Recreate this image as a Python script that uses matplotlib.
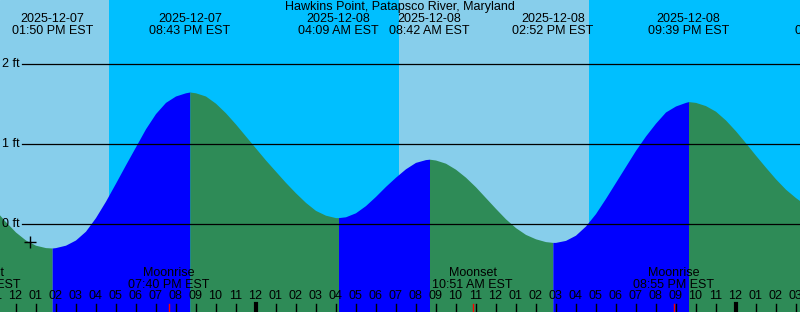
import matplotlib
matplotlib.use("Agg")
import matplotlib.pyplot as plt
import matplotlib.transforms as mtransforms
import numpy as np

plt.rcParams['font.family'] = ['Liberation Sans', 'DejaVu Sans']

title = "Hawkins Point, Patapsco River, Maryland"

# hours since 2025-12-07 00:00 EST, heights in ft
tide_hours = [11.0, 11.5, 12.0, 12.5, 13.0, 13.5, 13.833, 14.0, 14.5, 15.0, 15.5,
              16.0, 16.5, 17.0, 17.5, 18.0, 18.5, 19.0, 19.5, 20.0, 20.5, 20.717,
              21.0, 21.5, 22.0, 22.5, 23.0, 23.5, 24.0, 24.5, 25.0, 25.5, 26.0,
              26.5, 27.0, 27.5, 28.0, 28.15, 28.5, 29.0, 29.5, 30.0, 30.5, 31.0,
              31.5, 32.0, 32.5, 32.7, 33.0, 33.5, 34.0, 34.5, 35.0, 35.5, 36.0,
              36.5, 37.0, 37.5, 38.0, 38.5, 38.867, 39.0, 39.5, 40.0, 40.5, 41.0,
              41.5, 42.0, 42.5, 43.0, 43.5, 44.0, 44.5, 45.0, 45.5, 45.65, 46.0,
              46.5, 47.0, 47.5, 48.0, 48.5, 49.0, 49.5, 50.0, 50.5, 51.0, 51.5]
tide_ft = [0.17, 0.03, -0.10, -0.20, -0.265, -0.295, -0.30, -0.295, -0.265, -0.20, -0.09,
           0.08, 0.285, 0.51, 0.74, 0.965, 1.19, 1.38, 1.52, 1.60, 1.64, 1.65,
           1.64, 1.60, 1.51, 1.39, 1.25, 1.10, 0.95, 0.80, 0.66, 0.52, 0.39,
           0.27, 0.17, 0.11, 0.08, 0.08, 0.09, 0.14, 0.23, 0.345, 0.47, 0.585,
           0.69, 0.77, 0.805, 0.81, 0.80, 0.76, 0.685, 0.585, 0.465, 0.33, 0.195,
           0.065, -0.045, -0.13, -0.185, -0.22, -0.23, -0.23, -0.205, -0.14, -0.025, 0.13,
           0.32, 0.52, 0.72, 0.92, 1.10, 1.26, 1.40, 1.475, 1.52, 1.53, 1.52,
           1.48, 1.41, 1.30, 1.165, 1.015, 0.86, 0.71, 0.565, 0.435, 0.33, 0.24]

# high / low tide events
event_hours = [8.0, 13.833, 20.717, 28.15, 32.7, 38.867, 45.65, 52.967]
event_kind = ["high", "low", "high", "low", "high", "low", "high", "low"]
event_dates = ["2025-12-07", "2025-12-07", "2025-12-07", "2025-12-08",
               "2025-12-08", "2025-12-08", "2025-12-08", "2025-12-09"]
event_times = ["08:00 AM EST", "01:50 PM EST", "08:43 PM EST", "04:09 AM EST",
               "08:42 AM EST", "02:52 PM EST", "09:39 PM EST", "04:58 AM EST"]

# night periods (sunset -> sunrise)
night_start = [16.675, 40.675]
night_end = [31.175, 55.2]

moon_hours = [10.217, 19.667, 34.85, 44.917]
moon_names = ["Moonset", "Moonrise", "Moonset", "Moonrise"]
moon_times = ["10:13 AM EST", "07:40 PM EST", "10:51 AM EST", "08:55 PM EST"]

now_hour = 12.725
now_ft = -0.225

x0, x1 = 11.225, 51.225
y0, y1 = -1.1, 2.8

fig = plt.figure(figsize=(8, 3.12), dpi=100)
ax = fig.add_axes([0, 0, 1, 1])
ax.set_xlim(x0, x1)
ax.set_ylim(y0, y1)
ax.axis('off')

ax.axvspan(x0, x1, color='#87CEEB', zorder=0)
for s, e in zip(night_start, night_end):
    ax.axvspan(s, e, color='#00BFFF', zorder=0.5, lw=0)

t = np.array(tide_hours)
h = np.array(tide_ft)
for i in range(len(event_hours) - 1):
    a, b = event_hours[i], event_hours[i + 1]
    m = (t >= a - 1e-6) & (t <= b + 1e-6)
    if m.sum() < 2:
        continue
    col = '#0000FF' if event_kind[i] == "low" else '#2E8B57'
    ax.fill_between(t[m], h[m], y0, color=col, lw=0, zorder=1)

for lev in [0, 1, 2]:
    ax.axhline(lev, xmin=22 / 800, xmax=1, color='black', lw=0.9, zorder=2)
    ax.text(x0 + 2 / 20, lev, "%d ft" % lev, fontsize=9, va='center', ha='left', zorder=3)

ax.plot([now_hour], [now_ft], marker='+', color='black', ms=8, mew=1, zorder=3)

trans = mtransforms.blended_transform_factory(ax.transData, ax.transAxes)
H = 312.0
fs = 9

ax.text(0.5, 1 - 7 / H, title, transform=ax.transAxes, ha='center', va='center', fontsize=fs)
for eh, d, tm in zip(event_hours, event_dates, event_times):
    if eh < x0:
        continue  # label would be entirely off the left edge
    ax.text(eh, 1 - 19 / H, d, transform=trans, ha='center', va='center', fontsize=fs, zorder=4)
    ax.text(eh, 1 - 31 / H, tm, transform=trans, ha='center', va='center', fontsize=fs, zorder=4)

for mh, name, tm in zip(moon_hours, moon_names, moon_times):
    ax.text(mh, 1 - 273 / H, name, transform=trans, ha='center', va='center', fontsize=fs, zorder=4)
    ax.text(mh, 1 - 285 / H, tm, transform=trans, ha='center', va='center', fontsize=fs, zorder=4)
    ax.plot([mh, mh], [0, 8 / H], transform=trans, color='red', lw=1, zorder=4)

for hr in range(11, 52):
    lab = "%02d" % ((hr - 1) % 12 + 1)
    ax.text(hr, 1 - 296 / H, lab, transform=trans, ha='center', va='center', fontsize=fs, zorder=4)
    lw = 3 if hr % 24 == 0 else 1
    ax.plot([hr, hr], [0, 8 / H], transform=trans, color='black', lw=lw, zorder=4)

fig.savefig("out.png", dpi=100)
